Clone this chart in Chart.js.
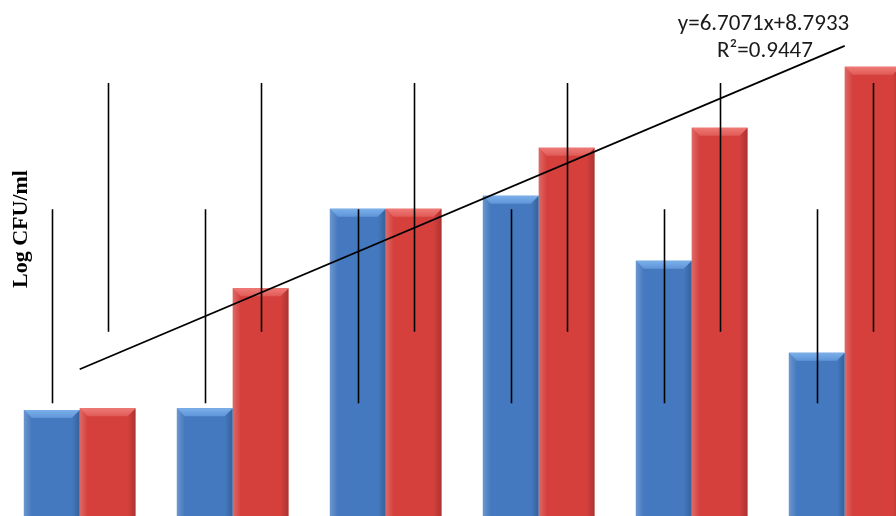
<!DOCTYPE html>
<html>
<head>
<meta charset="utf-8">
<script src="https://cdn.jsdelivr.net/npm/chart.js@4/dist/chart.umd.min.js"></script>
<style>
  html, body { margin: 0; padding: 0; background: #ffffff; overflow: hidden; }
  #wrap { width: 896px; height: 516px; position: relative; }
</style>
</head>
<body>
<div id="wrap"><canvas id="c" width="896" height="516"></canvas></div>
<script>
// ---- data ----
const categories = [1, 2, 3, 4, 5, 6];
const blueValues = [11.27, 11.45, 32.15, 33.50, 26.76, 17.22];
const redValues  = [11.45, 23.90, 32.15, 38.48, 40.56, 46.88];
const blueErrLow  = [11.97, 11.97, 11.97, 11.97, 11.97, 11.97];
const blueErrHigh = [32.10, 32.10, 32.10, 32.10, 32.10, 32.10];
const redErrLow   = [19.39, 19.39, 19.39, 19.39, 19.39, 19.39];
const redErrHigh  = [45.19, 45.19, 45.19, 45.19, 45.19, 45.19];
const trendX = [1, 6];
const trendY = [15.50, 49.04];
const yAxisTitle = 'Log CFU/ml';
const trendLabel = ['y=6.7071x+8.7933', 'R\u00B2=0.9447'];

const toPoints = (xs, ys) => xs.map((x, i) => ({ x: x, y: ys[i] }));

// bevel overlay for the Excel-like 3D bars
const bevelPlugin = {
  id: 'bevel',
  afterDatasetDraw(chart, args) {
    const meta = args.meta;
    if (meta.type !== 'bar') return;
    const ds = chart.data.datasets[args.index];
    const ctx = chart.ctx;
    const a = chart.chartArea;
    ctx.save();
    ctx.beginPath();
    ctx.rect(a.left, a.top, a.right - a.left, a.bottom - a.top);
    ctx.clip();
    const poly = (pts, style) => {
      ctx.fillStyle = style;
      ctx.beginPath();
      ctx.moveTo(pts[0][0], pts[0][1]);
      for (let i = 1; i < pts.length; i++) ctx.lineTo(pts[i][0], pts[i][1]);
      ctx.closePath();
      ctx.fill();
    };
    meta.data.forEach(el => {
      const p = el.getProps(['x', 'y', 'width', 'base'], true);
      const l = p.x - p.width / 2, r = p.x + p.width / 2, t = p.y, b = p.base;
      const d = 8;
      let g = ctx.createLinearGradient(l, 0, l + d, 0);
      g.addColorStop(0, 'rgba(255,255,255,0.22)');
      g.addColorStop(1, 'rgba(255,255,255,0.0)');
      poly([[l, t], [l + d, t + d], [l + d, b], [l, b]], g);
      g = ctx.createLinearGradient(r - d, 0, r, 0);
      g.addColorStop(0, 'rgba(0,0,0,0.0)');
      g.addColorStop(1, 'rgba(0,0,0,0.2)');
      poly([[r, t], [r - d, t + d], [r - d, b], [r, b]], g);
      g = ctx.createLinearGradient(0, t, 0, t + d);
      g.addColorStop(0, ds.bevelTopA);
      g.addColorStop(1, ds.bevelTopB);
      poly([[l, t], [r, t], [r - d, t + d], [l + d, t + d]], g);
    });
    ctx.restore();
  }
};

// error bars + texts
const overlayPlugin = {
  id: 'overlay',
  afterDatasetsDraw(chart) {
    const ctx = chart.ctx;
    const ys = chart.scales.y;
    const a = chart.chartArea;
    ctx.save();
    ctx.beginPath();
    ctx.rect(a.left, a.top, a.right - a.left, a.bottom - a.top);
    ctx.clip();
    ctx.strokeStyle = '#000000';
    ctx.lineWidth = 1.6;
    chart.data.datasets.forEach((ds, di) => {
      if (!ds.errLow) return;
      const meta = chart.getDatasetMeta(di);
      meta.data.forEach((el, i) => {
        const x = Math.round(el.x) + 0.5;
        ctx.beginPath();
        ctx.moveTo(x, ys.getPixelForValue(ds.errLow[i]));
        ctx.lineTo(x, ys.getPixelForValue(ds.errHigh[i]));
        ctx.stroke();
      });
    });
    ctx.restore();

    // y axis title
    ctx.save();
    ctx.translate(27, 229);
    ctx.rotate(-Math.PI / 2);
    ctx.font = 'bold 22px "Liberation Serif", "Times New Roman", serif';
    ctx.fillStyle = '#000000';
    ctx.textAlign = 'center';
    ctx.textBaseline = 'alphabetic';
    ctx.fillText(yAxisTitle, 0, 0);
    ctx.restore();

    // trendline label
    ctx.save();
    ctx.font = '23px Carlito, Lato, "Open Sans", sans-serif';
    ctx.fillStyle = '#1a1a1a';
    ctx.textAlign = 'center';
    ctx.textBaseline = 'alphabetic';
    ctx.fillText(trendLabel[0], 763.5, 30);
    ctx.fillText(trendLabel[1], 765, 57);
    ctx.restore();
  }
};

new Chart(document.getElementById('c'), {
  type: 'bar',
  data: {
    datasets: [
      {
        type: 'line',
        data: toPoints(trendX, trendY),
        borderColor: '#000000',
        borderWidth: 1.8,
        pointRadius: 0,
        fill: false,
        order: 0
      },
      {
        data: toPoints(categories, blueValues),
        backgroundColor: '#4479c0',
        bevelTopA: '#7bb0ea',
        bevelTopB: '#5f95d8',
        errLow: blueErrLow,
        errHigh: blueErrHigh,
        order: 1
      },
      {
        data: toPoints(categories, redValues),
        backgroundColor: '#d5403d',
        bevelTopA: '#ee7a76',
        bevelTopB: '#e05a56',
        errLow: redErrLow,
        errHigh: redErrHigh,
        order: 1
      }
    ]
  },
  options: {
    responsive: false,
    animation: false,
    layout: { padding: 0 },
    categoryPercentage: 0.7305,
    barPercentage: 1.0,
    plugins: { legend: { display: false }, tooltip: { enabled: false } },
    scales: {
      x: {
        type: 'linear',
        display: false,
        offset: false,
        min: 0.4791,
        max: 6.3353,
        afterBuildTicks: (axis) => { axis.ticks = categories.map(v => ({ value: v })); }
      },
      y: {
        display: false,
        min: 0.28,
        max: 53.80
      }
    }
  },
  plugins: [bevelPlugin, overlayPlugin]
});
</script>
</body>
</html>
